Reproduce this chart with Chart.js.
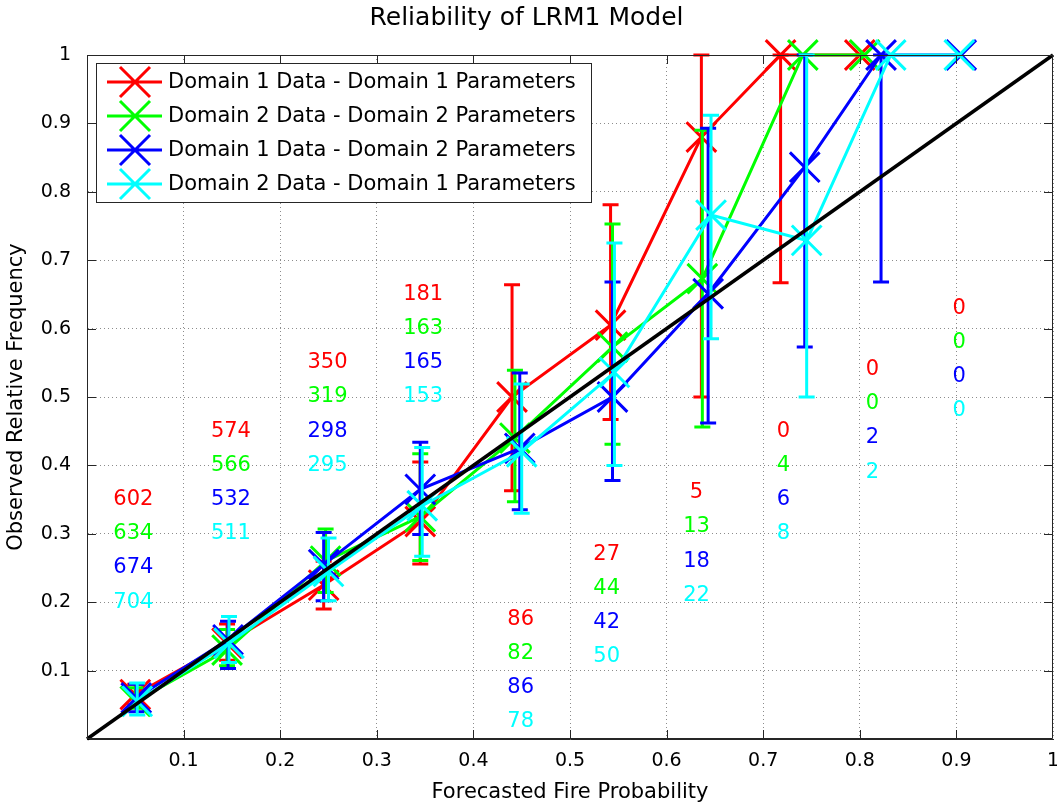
<!DOCTYPE html>
<html>
<head>
<meta charset="utf-8">
<script src="https://cdn.jsdelivr.net/npm/chart.js@4.4.1/dist/chart.umd.min.js"></script>
<style>
  html, body { margin: 0; padding: 0; background: #fff; overflow: hidden; }
  #wrap { width: 1057px; height: 809px; position: relative; }
</style>
</head>
<body>
<div id="wrap"><canvas id="myChart"></canvas></div>
<script>

const nombres = ['Domain 1 Data - Domain 1 Parameters', 'Domain 2 Data - Domain 2 Parameters',
                 'Domain 1 Data - Domain 2 Parameters', 'Domain 2 Data - Domain 1 Parameters']
const colores = ['#ff0000', '#00ff00', '#0000ff', '#00ffff']

// Domain 1 data - Domain 1 parameters (rojo)
const x_rojo = [0.05, 0.145, 0.245, 0.345, 0.44, 0.542, 0.636, 0.718, 0.80]
const y_rojo = [0.065, 0.14, 0.225, 0.318, 0.50, 0.605, 0.88, 1.0, 1.0]
const bajo_rojo = [0.05, 0.115, 0.19, 0.256, 0.363, 0.467, 0.50, 0.667, 1.0]
const alto_rojo = [0.08, 0.168, 0.26, 0.405, 0.664, 0.781, 1.0, 1.0, 1.0]

// Domain 2 data - Domain 2 parameters (verde)
const x_verde = [0.05, 0.145, 0.247, 0.345, 0.443, 0.544, 0.637, 0.741, 0.805]
const y_verde = [0.055, 0.13, 0.26, 0.325, 0.44, 0.573, 0.673, 1.0, 1.0]
const bajo_verde = [0.045, 0.107, 0.214, 0.261, 0.347, 0.431, 0.456, 1.0, 1.0]
const alto_verde = [0.075, 0.16, 0.307, 0.417, 0.539, 0.753, 0.89, 1.0, 1.0]

// Domain 1 data - Domain 2 parameters (azul)
const x_azul = [0.051, 0.146, 0.245, 0.345, 0.448, 0.544, 0.643, 0.743, 0.822, 0.905]
const y_azul = [0.06, 0.145, 0.255, 0.365, 0.425, 0.50, 0.651, 0.836, 1.0, 1.0]
const bajo_azul = [0.04, 0.103, 0.202, 0.299, 0.335, 0.378, 0.462, 0.573, 0.668, 1.0]
const alto_azul = [0.08, 0.172, 0.302, 0.434, 0.535, 0.668, 0.893, 1.0, 1.0, 1.0]

// Domain 2 data - Domain 1 parameters (cian)
const x_cian = [0.052, 0.147, 0.25, 0.347, 0.45, 0.546, 0.646, 0.745, 0.832, 0.903]
const y_cian = [0.055, 0.14, 0.245, 0.341, 0.42, 0.536, 0.766, 0.729, 1.0, 1.0]
const bajo_cian = [0.035, 0.112, 0.202, 0.267, 0.33, 0.40, 0.585, 0.50, 1.0, 1.0]
const alto_cian = [0.082, 0.179, 0.294, 0.426, 0.519, 0.725, 0.912, 1.0, 1.0, 1.0]

// conteos por intervalo (texto sobre la grafica)
const conteo_rojo = [602, 574, 350, 181, 86, 27, 5, 0, 0, 0]
const conteo_verde = [634, 566, 319, 163, 82, 44, 13, 4, 0, 0]
const conteo_azul = [674, 532, 298, 165, 86, 42, 18, 6, 2, 0]
const conteo_cian = [704, 511, 295, 153, 78, 50, 22, 8, 2, 0]
const conteo_x = [0.048, 0.149, 0.249, 0.348, 0.449, 0.538, 0.631, 0.721, 0.813, 0.903]
const conteo_y = [0.35, 0.45, 0.55, 0.65, 0.175, 0.27, 0.36, 0.45, 0.54, 0.63]

const ticks_x = ['', '0.1', '0.2', '0.3', '0.4', '0.5', '0.6', '0.7', '0.8', '0.9', '1']
const ticks_y = ['', '0.1', '0.2', '0.3', '0.4', '0.5', '0.6', '0.7', '0.8', '0.9', '1']

const fuente = 'DejaVu Sans'

function puntos(xs, ys) {
  return xs.map((x, i) => ({ x: x, y: ys[i] }))
}

function serie(n, xs, ys, bajo, alto, orden) {
  return {
    label: nombres[n],
    data: puntos(xs, ys),
    bajo: bajo,
    alto: alto,
    showLine: true,
    borderColor: colores[n],
    backgroundColor: colores[n],
    borderWidth: 3,
    pointStyle: 'crossRot',
    pointRadius: 21,
    pointBorderWidth: 3,
    pointHoverRadius: 21,
    clip: false,
    order: orden
  }
}

function sinMargen(scale) {
  scale.paddingLeft = 0; scale.paddingRight = 0
  scale.paddingTop = 0; scale.paddingBottom = 0
}

// barras de error (antes de cada serie)
const barras = {
  id: 'barras',
  beforeDatasetDraw(chart, args) {
    const ds = chart.data.datasets[args.index]
    if (!ds.bajo) return
    const ctx = chart.ctx
    const sx = chart.scales.x, sy = chart.scales.y
    ctx.save()
    ctx.strokeStyle = ds.borderColor
    ctx.lineWidth = 3
    ds.data.forEach((p, i) => {
      if (ds.bajo[i] === ds.alto[i]) return
      const px = sx.getPixelForValue(p.x)
      const y1 = sy.getPixelForValue(ds.bajo[i])
      const y2 = sy.getPixelForValue(ds.alto[i])
      ctx.beginPath()
      ctx.moveTo(px, y1); ctx.lineTo(px, y2)
      ctx.moveTo(px - 8, y1); ctx.lineTo(px + 8, y1)
      ctx.moveTo(px - 8, y2); ctx.lineTo(px + 8, y2)
      ctx.stroke()
    })
    ctx.restore()
  }
}

// numeros de casos
const conteos = {
  id: 'conteos',
  afterDatasetsDraw(chart) {
    const ctx = chart.ctx
    const sx = chart.scales.x, sy = chart.scales.y
    const grupos = [conteo_rojo, conteo_verde, conteo_azul, conteo_cian]
    ctx.save()
    ctx.font = '21px "' + fuente + '"'
    ctx.textAlign = 'center'
    ctx.textBaseline = 'middle'
    grupos.forEach((g, k) => {
      ctx.fillStyle = colores[k]
      g.forEach((c, i) => {
        ctx.fillText(String(c), sx.getPixelForValue(conteo_x[i]), sy.getPixelForValue(conteo_y[i] - 0.05 * k))
      })
    })
    ctx.restore()
  }
}

// caja y marcas hacia dentro, luego la leyenda
const caja = {
  id: 'caja',
  afterDraw(chart) {
    const ctx = chart.ctx, a = chart.chartArea
    const sx = chart.scales.x, sy = chart.scales.y
    ctx.save()
    ctx.strokeStyle = '#262626'
    ctx.lineWidth = 1
    ctx.beginPath()
    ctx.moveTo(a.left + 0.5, a.bottom - 0.5); ctx.lineTo(a.left + 0.5, a.top + 0.5)
    ctx.lineTo(a.right - 0.5, a.top + 0.5); ctx.lineTo(a.right - 0.5, a.bottom - 0.5)
    ctx.lineTo(a.left + 0.5, a.bottom - 0.5)
    for (let i = 1; i < 10; i++) {
      const px = Math.round(sx.getPixelForValue(i / 10)) + 0.5
      const py = Math.round(sy.getPixelForValue(i / 10)) + 0.5
      ctx.moveTo(px, a.bottom); ctx.lineTo(px, a.bottom - 9)
      ctx.moveTo(px, a.top); ctx.lineTo(px, a.top + 9)
      ctx.moveTo(a.left, py); ctx.lineTo(a.left + 9, py)
      ctx.moveTo(a.right, py); ctx.lineTo(a.right - 9, py)
    }
    ctx.stroke()

    // leyenda
    const x0 = a.left + 9, y0 = a.top + 8, w = 495, h = 139
    ctx.fillStyle = '#fff'
    ctx.fillRect(x0, y0, w, h)
    ctx.strokeRect(x0 + 0.5, y0 + 0.5, w, h)
    ctx.font = '21px "' + fuente + '"'
    ctx.textAlign = 'left'
    ctx.textBaseline = 'middle'
    nombres.forEach((nom, k) => {
      const yy = y0 + 19 + 34 * k
      const cx = x0 + 39
      ctx.strokeStyle = colores[k]
      ctx.lineWidth = 3
      ctx.beginPath()
      ctx.moveTo(x0 + 11, yy); ctx.lineTo(x0 + 66, yy)
      ctx.moveTo(cx - 15, yy - 15); ctx.lineTo(cx + 15, yy + 15)
      ctx.moveTo(cx - 15, yy + 15); ctx.lineTo(cx + 15, yy - 15)
      ctx.stroke()
      ctx.fillStyle = '#000'
      ctx.fillText(nom, x0 + 72, yy + 1)
    })
    ctx.restore()
  }
}

const ctx = document.getElementById('myChart')

new Chart(ctx, {
  type: 'scatter',
  data: {
    datasets: [
      serie(0, x_rojo, y_rojo, bajo_rojo, alto_rojo, 4),
      serie(1, x_verde, y_verde, bajo_verde, alto_verde, 3),
      serie(2, x_azul, y_azul, bajo_azul, alto_azul, 2),
      serie(3, x_cian, y_cian, bajo_cian, alto_cian, 1),
      {
        // linea de confiabilidad perfecta
        label: 'perfecta',
        data: [{ x: 0, y: 0 }, { x: 1, y: 1 }],
        showLine: true,
        borderColor: '#000',
        borderWidth: 3.5,
        pointRadius: 0,
        clip: false,
        order: 0
      }
    ]
  },
  options: {
    responsive: true,
    maintainAspectRatio: false,
    animation: false,
    events: [],
    layout: { autoPadding: false, padding: { top: 0, right: 4, bottom: 0, left: 0 } },
    plugins: {
      legend: { display: false },
      tooltip: { enabled: false },
      title: {
        display: true,
        text: 'Reliability of LRM1 Model',
        color: '#000',
        font: { family: fuente, size: 25, weight: 'normal' },
        padding: { top: 3, bottom: 22 }
      }
    },
    scales: {
      x: {
        type: 'linear',
        min: 0, max: 1,
        afterFit(scale) { scale.height = 70; sinMargen(scale) },
        ticks: {
          stepSize: 0.1,
          color: '#000',
          font: { family: fuente, size: 19 },
          padding: 11,
          maxRotation: 0,
          autoSkip: false,
          callback: (v, i) => ticks_x[i]
        },
        grid: { color: '#8c8c8c', drawTicks: false, lineWidth: 1 },
        border: { color: '#262626', width: 1, dash: [1, 3] },
        title: {
          display: true,
          text: 'Forecasted Fire Probability',
          color: '#000',
          font: { family: fuente, size: 21 },
          padding: { top: 0, bottom: 4 }
        }
      },
      y: {
        type: 'linear',
        min: 0, max: 1,
        afterFit(scale) { scale.width = 87; sinMargen(scale) },
        ticks: {
          stepSize: 0.1,
          color: '#000',
          font: { family: fuente, size: 19 },
          padding: 16,
          autoSkip: false,
          callback: (v, i) => ticks_y[i]
        },
        grid: { color: '#8c8c8c', drawTicks: false, lineWidth: 1 },
        border: { color: '#262626', width: 1, dash: [1, 3] },
        title: {
          display: true,
          text: 'Observed Relative Frequency',
          color: '#000',
          font: { family: fuente, size: 21 },
          padding: { top: 4, bottom: 0 }
        }
      }
    }
  },
  plugins: [barras, conteos, caja]
})

</script>
</body>
</html>
